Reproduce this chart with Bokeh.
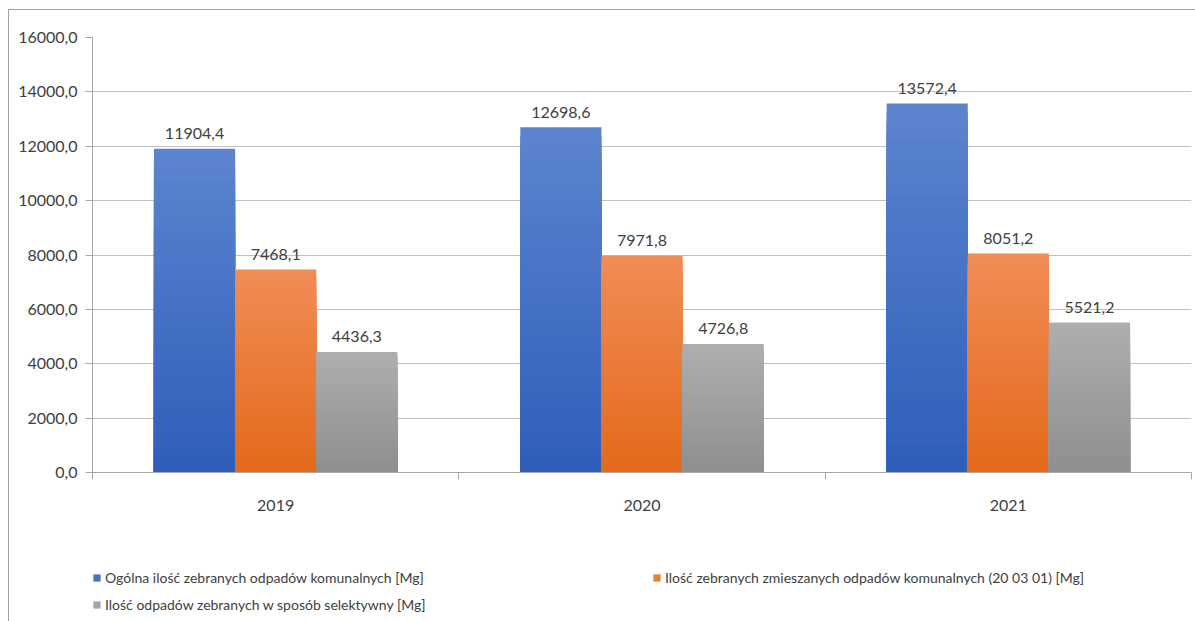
from bokeh.plotting import figure
from bokeh.layouts import column
from bokeh.models import ColumnDataSource, FixedTicker, Legend, LegendItem, Range1d
from bokeh.embed import file_html
from bokeh.resources import INLINE
from bokeh.core.properties import value

# ---- data ----
years = ["2019", "2020", "2021"]
series_names = [
    "Ogólna ilość zebranych odpadów komunalnych [Mg]",
    "Ilość zebranych zmieszanych odpadów komunalnych (20 03 01) [Mg]",
    "Ilość odpadów zebranych w sposób selektywny [Mg]",
]
total = [11904.4, 12698.6, 13572.4]
mixed = [7468.1, 7971.8, 8051.2]
selective = [4436.3, 4726.8, 5521.2]
y_ticks = [0, 2000, 4000, 6000, 8000, 10000, 12000, 14000, 16000]

# ---- style ----
FONT = "Lato"
TEXT = "#404040"
GRID = "#c0c0c0"
AXIS = "#a6a6a6"
mid_colors = ["#4472C4", "#ED7D31", "#A5A5A5"]
top_colors = [(0x5C, 0x84, 0xCE), (0xF1, 0x8C, 0x55), (0xAE, 0xAE, 0xAE)]
bot_colors = [(0x2E, 0x5D, 0xBA), (0xE3, 0x69, 0x1A), (0x8E, 0x8E, 0x8E)]
BAR_W = 0.2215
N_LAYERS = 40

p = figure(width=1186, height=520, x_range=Range1d(0, 3), y_range=Range1d(0, 16000),
           output_backend="svg", toolbar_location=None,
           min_border_left=83, min_border_right=4, min_border_top=27, min_border_bottom=58)
p.outline_line_color = None
p.background_fill_color = "white"
p.border_fill_color = "white"

series = [total, mixed, selective]
for j, vals in enumerate(series):
    xs = [i + 0.5 + (j - 1) * BAR_W for i in range(len(years))]
    tc, bc = top_colors[j], bot_colors[j]
    for k in range(N_LAYERS):
        f = 1 - k / N_LAYERS
        c = tuple(int(round(bc[m] + (tc[m] - bc[m]) * f)) for m in range(3))
        col = "#%02x%02x%02x" % c
        p.vbar(x=xs, top=[v * f for v in vals], width=BAR_W, fill_color=col, line_color=None)
    labels = [("%.1f" % v).replace(".", ",") for v in vals]
    p.text(x=xs, y=vals, text=labels, text_align="center", text_baseline="alphabetic",
           y_offset=-15, text_font=value(FONT), text_font_size="16px", text_color=TEXT)

# axes
xa = p.xaxis[0]
xa.ticker = FixedTicker(ticks=[i + 0.5 for i in range(len(years))],
                        minor_ticks=list(range(len(years) + 1)))
xa.major_label_overrides = {i + 0.5: y for i, y in enumerate(years)}
xa.major_tick_line_color = None
xa.major_tick_out = 0
xa.major_tick_in = 0
xa.minor_tick_out = 7
xa.minor_tick_in = 0
xa.minor_tick_line_color = AXIS
xa.axis_line_color = AXIS
xa.major_label_text_font = FONT
xa.major_label_text_font_size = "16px"
xa.major_label_text_color = TEXT
xa.major_label_standoff = 20

ya = p.yaxis[0]
ya.ticker = FixedTicker(ticks=y_ticks)
ya.major_label_overrides = {t: f"{t},0" for t in y_ticks}
ya.major_tick_out = 7
ya.major_tick_in = 0
ya.minor_tick_line_color = None
ya.major_tick_line_color = AXIS
ya.axis_line_color = AXIS
ya.major_label_text_font = FONT
ya.major_label_text_font_size = "16px"
ya.major_label_text_color = TEXT
ya.major_label_standoff = 8

p.xgrid.grid_line_color = None
p.ygrid.grid_line_color = GRID
p.ygrid.ticker = FixedTicker(ticks=y_ticks)

# legend panel (separate figure below the chart)
lg = figure(width=1186, height=91, x_range=Range1d(0, 1), y_range=Range1d(0, 1),
            output_backend="svg", toolbar_location=None, x_axis_type=None, y_axis_type=None,
            min_border_left=0, min_border_right=0, min_border_top=0, min_border_bottom=0)
lg.outline_line_color = None
lg.border_fill_color = "white"
# zero-size helper glyphs, used only as legend swatches
swatches = [lg.vbar(x=[0], bottom=[0], top=[0], width=0, fill_color=c, line_color=None)
            for c in mid_colors]

legend = Legend(items=[LegendItem(label=series_names[0], renderers=[swatches[0]]),
                       LegendItem(label=series_names[2], renderers=[swatches[2]]),
                       LegendItem(label=series_names[1], renderers=[swatches[1]])],
                orientation="vertical", nrows=2,
                location=(0, 7), margin=0,
                glyph_width=9, glyph_height=9, label_standoff=4, label_width=540,
                spacing=7, padding=0, border_line_color=None, background_fill_alpha=0,
                label_text_font=FONT, label_text_font_size="14px", label_text_color=TEXT,
                label_height=20)
lg.add_layout(legend)

layout = column(p, lg, spacing=0)
layout.styles = {"margin-left": "8px", "margin-top": "9px",
                 "border-top": "1px solid #a0a0a0", "border-left": "1px solid #a0a0a0"}

open("out.html", "w").write(file_html(layout, INLINE))
